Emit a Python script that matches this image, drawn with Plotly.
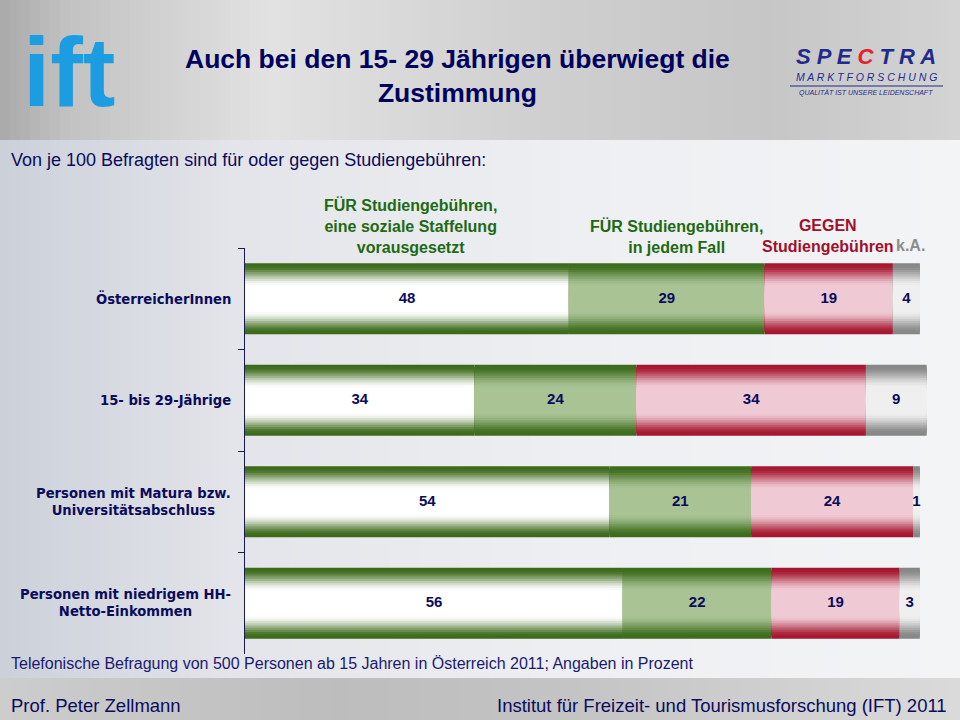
import plotly.graph_objects as go

# ---------------- data ----------------
categories = ["ÖsterreicherInnen", "15- bis 29-Jährige",
              "Personen mit Matura bzw.<br>Universitätsabschluss",
              "Personen mit niedrigem HH-<br>Netto-Einkommen"]
fuer_sozial = [48, 34, 54, 56]
fuer_jedem = [29, 24, 21, 22]
gegen = [19, 34, 24, 19]
keine_angabe = [4, 9, 1, 3]

series_names = ["FÜR Studiengebühren,<br>eine soziale Staffelung<br>vorausgesetzt",
                "FÜR Studiengebühren,<br>in jedem Fall",
                "GEGEN<br>Studiengebühren",
                "k.A."]

title_text = "Auch bei den 15- 29 Jährigen überwiegt die<br>Zustimmung"
subtitle_text = "Von je 100 Befragten sind für oder gegen Studiengebühren:"
footnote_text = "Telefonische Befragung von 500 Personen ab 15 Jahren in Österreich 2011; Angaben in Prozent"
footer_left = "Prof. Peter Zellmann"
footer_right = "Institut für Freizeit- und Tourismusforschung (IFT) 2011"

# ---------------- styles ----------------
W, H = 960, 720
ML, MR, MT, MB = 245, 30, 248, 66
NAVY = "#0b0b5c"
FONT = "Liberation Sans"
seg_dark = ["#3b6a1a", "#3d6c1c", "#a5172f", "#868686"]
seg_light = ["#ffffff", "#a9c394", "#efcad4", "#efefef"]
head_colors = ["#1d6a12", "#1d6a12", "#a0102a", "#8c8c8c"]
BARW = 0.70
NLAY = 16

def hex2rgb(h):
    h = h.lstrip("#")
    return tuple(int(h[i:i + 2], 16) for i in (0, 2, 4))

def mix(c1, c2, t):
    a, b = hex2rgb(c1), hex2rgb(c2)
    return "rgb(%d,%d,%d)" % tuple(round(a[i] + (b[i] - a[i]) * t) for i in range(3))

def px2x(px):
    return (px - ML) / (W - ML - MR)

def px2y(py):
    return (H - MB - py) / (H - MT - MB)

fig = go.Figure()

# ---------------- gradient stacked bars ----------------
values = [fuer_sozial, fuer_jedem, gegen, keine_angabe]
bases = []
run = [0] * len(categories)
for s in values:
    bases.append(list(run))
    run = [run[i] + s[i] for i in range(len(run))]

for si, s in enumerate(values):
    for k in range(NLAY):
        r = k / NLAY
        t = min(1.0, r / 0.62)
        t = t * t * (3 - 2 * t)
        fig.add_trace(go.Bar(
            y=categories, x=s, base=bases[si], orientation="h",
            width=BARW * (1 - k / NLAY),
            marker=dict(color=mix(seg_dark[si], seg_light[si], t), line=dict(width=0)),
            hoverinfo="skip", showlegend=False))

# value labels
for si, s in enumerate(values):
    fig.add_trace(go.Scatter(
        y=categories, x=[bases[si][i] + s[i] / 2 for i in range(len(s))],
        mode="text", text=[str(v) for v in s],
        textfont=dict(family=FONT, size=15, color=NAVY, weight="bold"),
        hoverinfo="skip", showlegend=False))

# ---------------- background shapes ----------------
shapes = []

def hgrad(y0, y1, stops, n=96):
    for i in range(n):
        x0p = W * i / n
        x1p = W * (i + 1) / n + 0.6
        f = (i + 0.5) / n
        for j in range(len(stops) - 1):
            if stops[j][0] <= f <= stops[j + 1][0]:
                tt = (f - stops[j][0]) / (stops[j + 1][0] - stops[j][0])
                col = mix(stops[j][1], stops[j + 1][1], tt)
                break
        shapes.append(dict(type="rect", xref="paper", yref="paper",
                           x0=px2x(x0p), x1=px2x(x1p), y0=px2y(y1), y1=px2y(y0),
                           fillcolor=col, line=dict(width=0), layer="below"))

hgrad(0, 140, [(0, "#a9a9a9"), (0.07, "#c2c2c2"), (0.28, "#e2e2e2"), (0.55, "#d0d0d0"),
               (0.8, "#c6c6c6"), (1.0, "#d4d4d4")])
hgrad(140, 678, [(0, "#ccd0d9"), (0.25, "#e3e5ea"), (0.6, "#eeeff2"), (1.0, "#f3f4f6")])
hgrad(678, 720, [(0, "#cdcdcd"), (0.35, "#bdbdbd"), (0.6, "#c4c4c4"), (1.0, "#dadada")])

# spectra logo line
shapes.append(dict(type="line", xref="paper", yref="paper",
                   x0=px2x(790), x1=px2x(943), y0=px2y(86), y1=px2y(86),
                   line=dict(color="#1f2a7a", width=1)))

# ---------------- annotations ----------------
ann = []

def add_text(px, py, text, size, color, family=FONT, xanchor="left",
             yanchor="middle", align="left", weight="normal", style="normal"):
    ann.append(dict(xref="paper", yref="paper", x=px2x(px), y=px2y(py), text=text,
                    showarrow=False, xanchor=xanchor, yanchor=yanchor, align=align,
                    font=dict(family=family, size=size, color=color, weight=weight,
                              style=style)))

# logos
add_text(70, 72, "ift", 98, "#1c9de2", xanchor="center", weight="bold")
add_text(866, 57, "S P E <span style='color:#e8202a'>C</span> T R A", 22, "#1f2a8a",
         xanchor="center", weight="bold", style="italic")
add_text(866, 77, "M A R K T F O R S C H U N G", 10.5, "#1f2a8a", xanchor="center",
         style="italic")
add_text(866, 93, "QUALITÄT IST UNSERE LEIDENSCHAFT", 7, "#1f2a8a", xanchor="center",
         style="italic")

# title, subtitle, footers
add_text(457, 76, title_text, 26.5, "#00005e", xanchor="center", align="center",
         weight="bold")
add_text(9, 160, subtitle_text, 18, NAVY)
add_text(9, 663, footnote_text, 16, "#1a1a70")
add_text(9, 705, footer_left, 18.5, NAVY)
add_text(949, 705, footer_right, 18.5, NAVY, xanchor="right")

# column headers
head_x = [410, 676, 828, 910]
head_y = [226, 236, 236, 245]
for i, name in enumerate(series_names):
    add_text(head_x[i], head_y[i], name, 16, head_colors[i], xanchor="center",
             align="center", weight="bold")

# category labels
for c in categories:
    ann.append(dict(xref="paper", yref="y", x=px2x(233), y=c, text=c, showarrow=False,
                    xanchor="right", yanchor="middle", align="center",
                    font=dict(family="DejaVu Sans", size=13.2, color=NAVY, weight="bold")))

fig.update_layout(
    width=W, height=H, margin=dict(l=ML, r=MR, t=MT, b=MB),
    paper_bgcolor="#e9ebef", plot_bgcolor="rgba(0,0,0,0)",
    barmode="overlay", shapes=shapes, annotations=ann, showlegend=False,
    xaxis=dict(range=[0, 101.5], visible=False, fixedrange=True),
    yaxis=dict(type="category", categoryorder="array", categoryarray=categories,
               range=[3.5, -0.5], tickson="boundaries", ticks="outside", ticklen=6,
               tickcolor="#1a1a50", showline=True, linecolor="#1a1a50", linewidth=1,
               showticklabels=False, showgrid=False, zeroline=False, fixedrange=True),
)

fig.write_html("out.html", config={"displayModeBar": False})

# remove the browser's default page margin so the figure fills the window
with open("out.html", encoding="utf-8") as f:
    html = f.read()
html = html.replace("<body>", "<body style=\"margin:0;overflow:hidden\">", 1)
with open("out.html", "w", encoding="utf-8") as f:
    f.write(html)
